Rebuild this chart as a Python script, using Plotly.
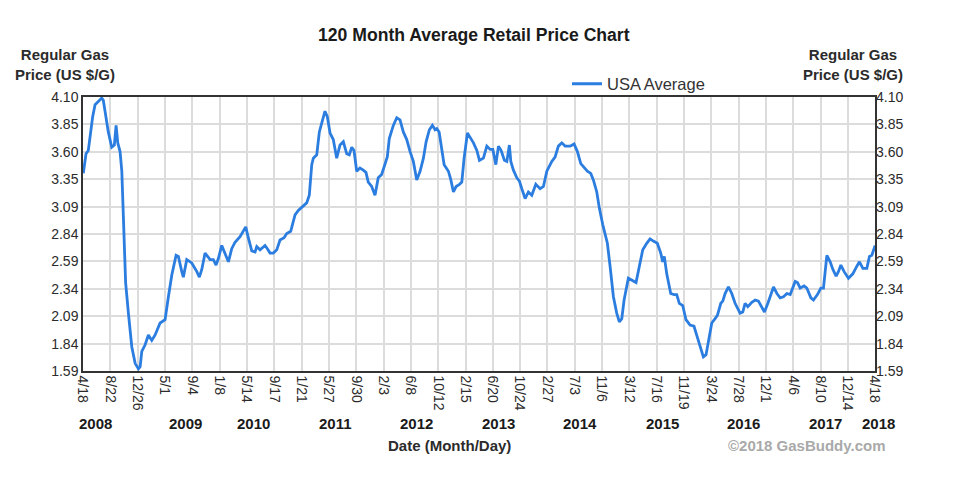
import numpy as np
import pandas as pd
import plotly.graph_objects as go

# ---- data: time as decimal year, price in US $/gal ----
t_year = [2008.299, 2008.333, 2008.362, 2008.383, 2008.417, 2008.447, 2008.488, 2008.531, 2008.551, 2008.585,
          2008.614, 2008.657, 2008.690, 2008.712, 2008.733, 2008.762, 2008.784, 2008.804, 2008.813, 2008.832,
          2008.867, 2008.910, 2008.952, 2008.993, 2009.015, 2009.036, 2009.078, 2009.119, 2009.162, 2009.204,
          2009.267, 2009.330, 2009.372, 2009.415, 2009.469, 2009.498, 2009.541, 2009.561, 2009.604, 2009.667,
          2009.731, 2009.763, 2009.794, 2009.835, 2009.899, 2009.940, 2009.974, 2010.003, 2010.046, 2010.088,
          2010.130, 2010.172, 2010.214, 2010.277, 2010.319, 2010.349, 2010.382, 2010.425, 2010.467, 2010.488,
          2010.530, 2010.593, 2010.622, 2010.656, 2010.698, 2010.741, 2010.782, 2010.833, 2010.867, 2010.917,
          2010.950, 2010.972, 2011.013, 2011.077, 2011.119, 2011.152, 2011.183, 2011.203, 2011.246, 2011.279,
          2011.321, 2011.350, 2011.380, 2011.414, 2011.455, 2011.498, 2011.540, 2011.582, 2011.625, 2011.657,
          2011.688, 2011.717, 2011.751, 2011.792, 2011.834, 2011.868, 2011.897, 2011.940, 2011.982, 2012.023,
          2012.066, 2012.108, 2012.137, 2012.162, 2012.213, 2012.256, 2012.297, 2012.339, 2012.382, 2012.424,
          2012.465, 2012.508, 2012.550, 2012.592, 2012.626, 2012.667, 2012.705, 2012.739, 2012.761, 2012.790,
          2012.824, 2012.853, 2012.907, 2012.938, 2012.970, 2013.004, 2013.046, 2013.076, 2013.105, 2013.147,
          2013.181, 2013.223, 2013.266, 2013.299, 2013.349, 2013.392, 2013.434, 2013.468, 2013.506, 2013.539,
          2013.573, 2013.614, 2013.645, 2013.677, 2013.695, 2013.728, 2013.771, 2013.804, 2013.834, 2013.876,
          2013.917, 2013.960, 2014.011, 2014.065, 2014.107, 2014.150, 2014.213, 2014.254, 2014.296, 2014.339,
          2014.381, 2014.444, 2014.494, 2014.536, 2014.579, 2014.621, 2014.662, 2014.705, 2014.738, 2014.781,
          2014.814, 2014.857, 2014.886, 2014.915, 2014.949, 2014.991, 2015.033, 2015.066, 2015.097, 2015.126,
          2015.180, 2015.223, 2015.277, 2015.319, 2015.362, 2015.412, 2015.454, 2015.496, 2015.546, 2015.589,
          2015.614, 2015.634, 2015.665, 2015.715, 2015.757, 2015.791, 2015.824, 2015.867, 2015.908, 2015.959,
          2016.009, 2016.051, 2016.085, 2016.127, 2016.161, 2016.190, 2016.233, 2016.275, 2016.304, 2016.347,
          2016.372, 2016.401, 2016.443, 2016.485, 2016.527, 2016.590, 2016.624, 2016.653, 2016.687, 2016.738,
          2016.780, 2016.821, 2016.864, 2016.897, 2016.940, 2016.978, 2017.011, 2017.054, 2017.095, 2017.137,
          2017.180, 2017.222, 2017.256, 2017.285, 2017.314, 2017.348, 2017.398, 2017.432, 2017.483, 2017.516,
          2017.566, 2017.609, 2017.642, 2017.685, 2017.727, 2017.761, 2017.802, 2017.831, 2017.862, 2017.903,
          2017.958, 2018.013, 2018.064, 2018.097, 2018.140, 2018.190, 2018.223, 2018.253, 2018.295]
price = [3.40, 3.58, 3.61, 3.75, 3.92, 4.03, 4.06, 4.09, 4.07, 3.91,
         3.78, 3.64, 3.66, 3.84, 3.68, 3.60, 3.42, 3.00, 2.84, 2.40,
         2.12, 1.81, 1.66, 1.61, 1.63, 1.77, 1.83, 1.92, 1.87, 1.92,
         2.03, 2.06, 2.27, 2.47, 2.65, 2.64, 2.50, 2.45, 2.61, 2.58,
         2.50, 2.45, 2.52, 2.67, 2.61, 2.61, 2.56, 2.62, 2.74, 2.67,
         2.59, 2.71, 2.77, 2.82, 2.87, 2.91, 2.81, 2.69, 2.68, 2.73,
         2.70, 2.74, 2.71, 2.67, 2.67, 2.70, 2.79, 2.81, 2.85, 2.87,
         2.96, 3.02, 3.06, 3.10, 3.13, 3.20, 3.48, 3.54, 3.57, 3.78,
         3.89, 3.97, 3.92, 3.77, 3.71, 3.54, 3.66, 3.69, 3.58, 3.57,
         3.64, 3.61, 3.42, 3.45, 3.43, 3.41, 3.32, 3.28, 3.20, 3.36,
         3.39, 3.48, 3.55, 3.72, 3.84, 3.91, 3.89, 3.78, 3.71, 3.60,
         3.51, 3.34, 3.42, 3.54, 3.69, 3.80, 3.84, 3.80, 3.81, 3.78,
         3.60, 3.48, 3.42, 3.34, 3.23, 3.28, 3.30, 3.32, 3.54, 3.77,
         3.73, 3.68, 3.61, 3.52, 3.54, 3.65, 3.62, 3.62, 3.48, 3.65,
         3.61, 3.52, 3.51, 3.66, 3.51, 3.43, 3.36, 3.33, 3.26, 3.17,
         3.23, 3.20, 3.30, 3.26, 3.28, 3.42, 3.51, 3.55, 3.65, 3.68,
         3.65, 3.65, 3.67, 3.60, 3.49, 3.45, 3.42, 3.40, 3.34, 3.23,
         3.08, 2.93, 2.85, 2.76, 2.55, 2.27, 2.12, 2.04, 2.07, 2.24,
         2.44, 2.42, 2.40, 2.55, 2.70, 2.76, 2.80, 2.78, 2.76, 2.67,
         2.59, 2.64, 2.48, 2.30, 2.29, 2.29, 2.21, 2.19, 2.06, 2.01,
         2.00, 1.90, 1.81, 1.72, 1.74, 1.87, 2.03, 2.07, 2.10, 2.21,
         2.23, 2.30, 2.36, 2.30, 2.21, 2.12, 2.13, 2.21, 2.18, 2.22,
         2.24, 2.23, 2.18, 2.13, 2.21, 2.29, 2.36, 2.30, 2.26, 2.27,
         2.30, 2.29, 2.36, 2.41, 2.40, 2.35, 2.37, 2.35, 2.26, 2.24,
         2.29, 2.35, 2.35, 2.65, 2.59, 2.52, 2.46, 2.50, 2.56, 2.50,
         2.44, 2.48, 2.55, 2.59, 2.53, 2.53, 2.64, 2.65, 2.74]

tick_dates = ["2008-04-18", "2008-08-22", "2008-12-26", "2009-05-01", "2009-09-04",
              "2010-01-08", "2010-05-14", "2010-09-17", "2011-01-21", "2011-05-27",
              "2011-09-30", "2012-02-03", "2012-06-08", "2012-10-12", "2013-02-15",
              "2013-06-20", "2013-10-24", "2014-02-27", "2014-07-03", "2014-11-06",
              "2015-03-12", "2015-07-16", "2015-11-19", "2016-03-24", "2016-07-28",
              "2016-12-01", "2017-04-06", "2017-08-10", "2017-12-14", "2018-04-18"]
y_tick_text = ["1.59", "1.84", "2.09", "2.34", "2.59", "2.84", "3.09", "3.35", "3.60", "3.85", "4.10"]
year_labels = ["2008", "2009", "2010", "2011", "2012", "2013", "2014", "2015", "2016", "2017", "2018"]


def dec_to_date(t):
    yr = int(t)
    start = pd.Timestamp(yr, 1, 1)
    end = pd.Timestamp(yr + 1, 1, 1)
    return start + (end - start) * (t - yr)


dates = [dec_to_date(t) for t in t_year]
tick_ts = pd.to_datetime(tick_dates)
tick_text = [f"{d.month}/{d.day}" for d in tick_ts]
y_min, y_max = 1.59, 4.10
y_tick_vals = list(np.linspace(y_min, y_max, len(y_tick_text)))

FONT = "Liberation Sans, Arial, sans-serif"
LINE_COLOR = "#2b7de0"
GRID = "#dcdcdc"
TXT = "#2b2b2b"

# plot area in pixels (layout)
W, H = 960, 485
L, R, T, B = 83, 875, 97, 371

fig = go.Figure()
fig.add_trace(go.Scatter(x=dates, y=price, mode="lines", name="USA Average",
                         line=dict(color=LINE_COLOR, width=2.8), yaxis="y"))
fig.add_trace(go.Scatter(x=dates, y=price, mode="lines", showlegend=False,
                         line=dict(color="rgba(0,0,0,0)", width=0), yaxis="y2", hoverinfo="skip"))


def px_x(px):
    return (px - L) / (R - L)


def px_y(py):
    return (B - py) / (B - T)


def ann(text, px, py, size, color=TXT, xanchor="center"):
    return dict(text=text, x=px_x(px), y=px_y(py), xref="paper", yref="paper",
                xanchor=xanchor, yanchor="middle", showarrow=False, align="center",
                font=dict(size=size, color=color, family=FONT))


year_px = [95, 185, 253, 335, 416, 498, 580, 662, 743, 825, 879]
annotations = [
    ann("<b>120 Month Average Retail Price Chart</b>", 474, 35, 17.6, "#1a1a1a"),
    ann("<b>Regular Gas<br>Price (US $/G)</b>", 65, 65, 15),
    ann("<b>Regular Gas<br>Price (US $/G)</b>", 853, 65, 15),
    ann("<b>Date (Month/Day)</b>", 449, 445, 15),
    ann("<b>©2018 GasBuddy.com</b>", 888, 445, 15, "#a9a9a9", xanchor="right"),
]
for lab, px in zip(year_labels, year_px):
    annotations.append(ann(f"<b>{lab}</b>", px, 423, 15, "#1a1a1a"))

axis_common = dict(showline=True, linecolor="#333333", linewidth=1.5, mirror=True,
                   gridcolor=GRID, gridwidth=1.5, ticks="", zeroline=False)

fig.update_layout(
    width=W, height=H,
    margin=dict(l=L, r=W - R, t=T, b=H - B, pad=0),
    paper_bgcolor="white", plot_bgcolor="white",
    font=dict(family=FONT, size=14, color=TXT),
    showlegend=True,
    legend=dict(orientation="h", x=px_x(567), y=px_y(84), xanchor="left", yanchor="middle",
                font=dict(size=16.5, color="#333333", family=FONT), bgcolor="rgba(0,0,0,0)"),
    xaxis=dict(type="date", range=[tick_ts[0], tick_ts[-1]], tickmode="array",
               tickvals=list(tick_ts), ticktext=tick_text, tickangle=90,
               tickfont=dict(size=14, color=TXT), **axis_common),
    yaxis=dict(range=[y_min, y_max], tickmode="array", tickvals=y_tick_vals, ticktext=y_tick_text,
               tickfont=dict(size=14, color=TXT), **axis_common),
    yaxis2=dict(range=[y_min, y_max], tickmode="array", tickvals=y_tick_vals, ticktext=y_tick_text,
                overlaying="y", side="right", showgrid=False, showline=False, ticks="",
                zeroline=False, tickfont=dict(size=14, color=TXT)),
    annotations=annotations,
)

fig.write_html("out.html", config={"displayModeBar": False},
               post_script="document.body.style.margin='0';document.body.style.overflow='hidden';")
